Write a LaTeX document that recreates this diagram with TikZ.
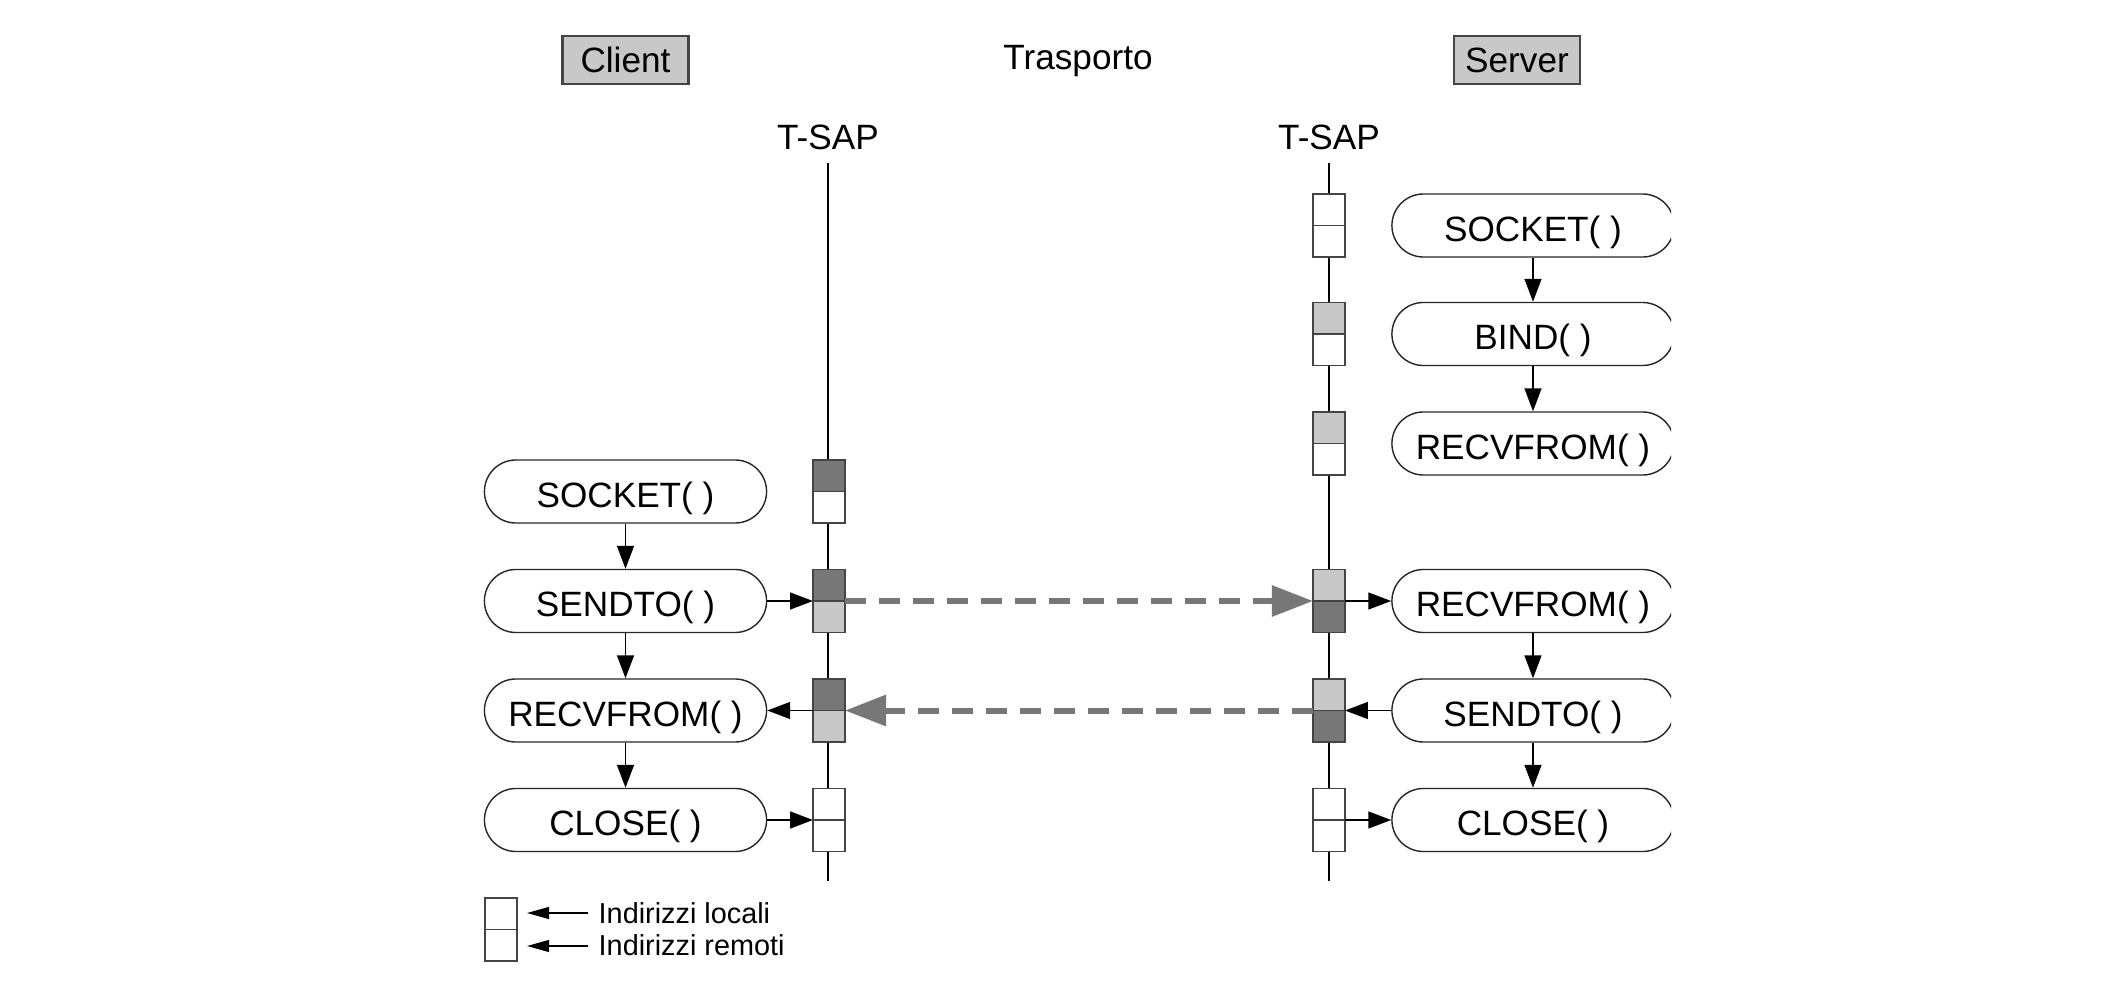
\documentclass[tikz,border=0pt]{standalone}
\usepackage{fontspec}
\setmainfont{Liberation Sans}
\usetikzlibrary{arrows.meta,positioning}
\definecolor{grigiochiaro}{HTML}{C8C8C8}
\definecolor{grigioscuro}{HTML}{777777}
\definecolor{bordo}{HTML}{444444}

% coppia di indirizzi: nome, posizione, colore sopra, colore sotto
\newcommand{\indirizzi}[4]{%
  \node[sap,fill=#4] (#1) at (#2) {};
  \fill[#3] (#1.north west) rectangle (#1.east);
  \draw[bordo,line width=0.45pt] (#1.north west) rectangle (#1.south east) (#1.west) -- (#1.east);
}

\begin{document}
\begin{tikzpicture}[x=0.01cm,y=-0.01cm,
    funz/.style={draw=black!85,line width=0.4pt,rounded corners=0.315cm,minimum width=2.82cm,
      minimum height=0.63cm,inner sep=0pt,text height=0.31cm,text depth=0cm,
      font=\fontsize{10}{12}\selectfont},
    testa/.style={draw=bordo,line width=0.6pt,fill=grigiochiaro,minimum width=1.26cm,
      minimum height=0.48cm,inner sep=0pt,font=\fontsize{10}{12}\selectfont},
    etich/.style={anchor=base,inner sep=0pt,font=\fontsize{10}{12}\selectfont},
    sap/.style={inner sep=0pt,outer sep=0pt,minimum width=0.32cm,minimum height=0.63cm},
    freccia/.style={-{Triangle[length=6.5pt,width=4.8pt]},line width=0.45pt},
    ritorno/.style={-{Triangle[length=0.41cm,width=0.30cm]},grigioscuro,line width=0.06cm,
      dash pattern=on 0.21cm off 0.13cm}]
  \useasboundingbox (0,0) rectangle (2126,982);
  \begin{scope}
    \clip (0,0) rectangle (1671,982);
    % intestazioni
    \node[testa] (client) at (625.5,60) {Client};
    \node[testa] (server) at (1517,60) {Server};
    \node[etich] (trasporto) at (1078,70) {Trasporto};
    \node[etich] (tsapc) at (828,150) {T-SAP};
    \node[etich] (tsaps) at (1329,150) {T-SAP};
    % linee dei T-SAP
    \coordinate (ctop) at (828,163);
    \coordinate (cbot) at (828,881);
    \coordinate (stop) at (1329,163);
    \coordinate (sbot) at (1329,881);
    \draw[line width=0.6pt] (ctop) -- (cbot);
    \draw[line width=0.6pt] (stop) -- (sbot);
    % primitive del client
    \node[funz] (csocket) at (625.5,491.5) {SOCKET( )};
    \node[funz] (csendto) at (625.5,601) {SENDTO( )};
    \node[funz] (crecv) at (625.5,710.5) {RECVFROM( )};
    \node[funz] (cclose) at (625.5,820) {CLOSE( )};
    % primitive del server
    \node[funz] (ssocket) at (1533,225.5) {SOCKET( )};
    \node[funz] (sbind) at (1533,334) {BIND( )};
    \node[funz] (srecv) at (1533,443.5) {RECVFROM( )};
    \node[funz] (srecvb) at (1533,601) {RECVFROM( )};
    \node[funz] (ssendto) at (1533,710.5) {SENDTO( )};
    \node[funz] (sclose) at (1533,820) {CLOSE( )};
    % indirizzi sui T-SAP
    \indirizzi{ca}{829,491.5}{grigioscuro}{white}
    \indirizzi{cb}{829,601}{grigioscuro}{grigiochiaro}
    \indirizzi{cc}{829,710.5}{grigioscuro}{grigiochiaro}
    \indirizzi{cd}{829,820}{white}{white}
    \indirizzi{sa}{1329,225.5}{white}{white}
    \indirizzi{sb}{1329,334}{grigiochiaro}{white}
    \indirizzi{sc}{1329,443.5}{grigiochiaro}{white}
    \indirizzi{sd}{1329,601}{grigiochiaro}{grigioscuro}
    \indirizzi{se}{1329,710.5}{grigiochiaro}{grigioscuro}
    \indirizzi{sf}{1329,820}{white}{white}
    % sequenza delle chiamate
    \draw[freccia] (csocket) -- (csendto);
    \draw[freccia] (csendto) -- (crecv);
    \draw[freccia] (crecv) -- (cclose);
    \draw[freccia] (ssocket) -- (sbind);
    \draw[freccia] (sbind) -- (srecv);
    \draw[freccia] (srecvb) -- (ssendto);
    \draw[freccia] (ssendto) -- (sclose);
    % verso i T-SAP
    \draw[freccia] (csendto) -- (cb);
    \draw[freccia] (cc) -- (crecv);
    \draw[freccia] (cclose) -- (cd);
    \draw[freccia] (sd) -- (srecvb);
    \draw[freccia] (ssendto) -- (se);
    \draw[freccia] (sf) -- (sclose);
    % datagrammi
    \draw[ritorno] (cb.east) -- (sd.west);
    \draw[ritorno] (se.west) -- (cc.east);
  \end{scope}
  % legenda
  \indirizzi{leg}{501,929.5}{white}{white}
  \node[anchor=base west,inner sep=0pt,font=\fontsize{8.2}{10}\selectfont] (locali) at (598,923) {Indirizzi locali};
  \node[anchor=base west,inner sep=0pt,font=\fontsize{8.2}{10}\selectfont] (remoti) at (598,955) {Indirizzi remoti};
  \coordinate (locda) at (588,913);
  \coordinate (loca) at (527,913);
  \coordinate (remda) at (588,946);
  \coordinate (rema) at (527,946);
  \draw[-{Triangle[length=6.3pt,width=3.4pt]},line width=0.45pt] (locda) -- (loca);
  \draw[-{Triangle[length=6.3pt,width=3.4pt]},line width=0.45pt] (remda) -- (rema);
\end{tikzpicture}
\end{document}
